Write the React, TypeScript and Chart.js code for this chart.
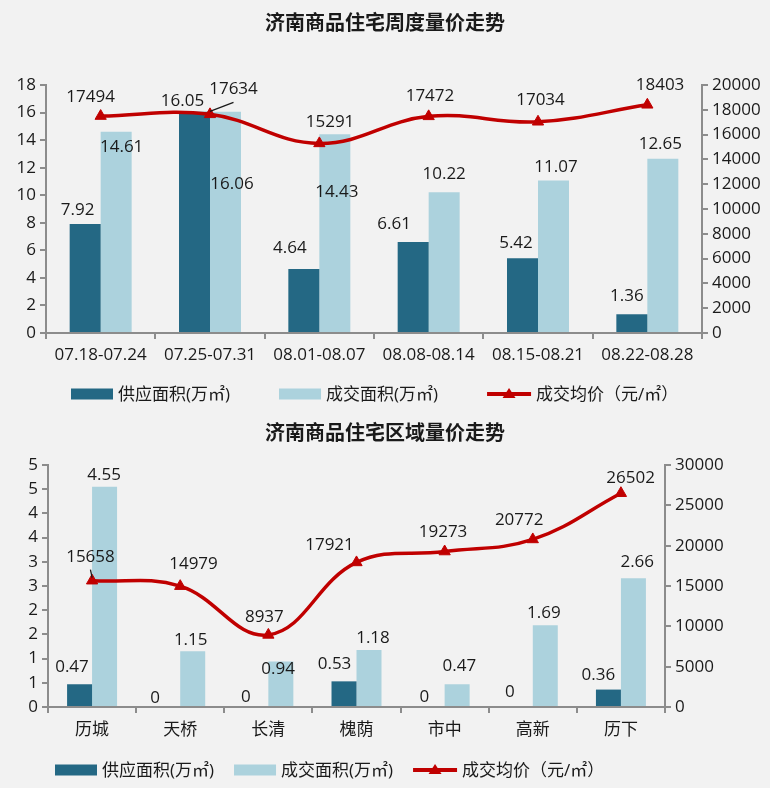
import React, { useEffect, useRef } from 'react';
import { Chart, registerables } from 'chart.js';
Chart.register(...registerables);

const FONT = "'Open Sans', 'Noto Sans CJK SC', sans-serif";
const AXIS = '#8c8c8c';
const TEXT = '#1a1a1a';
const C_SUPPLY = '#246884';
const C_DEAL = '#acd2dd';
const C_PRICE = '#c00000';

// ---- Chart 1 data: weekly ----
const weeks = ['07.18-07.24', '07.25-07.31', '08.01-08.07', '08.08-08.14', '08.15-08.21', '08.22-08.28'];
const weekSupply = [7.92, 16.05, 4.64, 6.61, 5.42, 1.36];
const weekDeal = [14.61, 16.06, 14.43, 10.22, 11.07, 12.65];
const weekPrice = [17494, 17634, 15291, 17472, 17034, 18403];

// ---- Chart 2 data: districts ----
const districts = ['历城', '天桥', '长清', '槐荫', '市中', '高新', '历下'];
const distSupply = [0.47, 0, 0, 0.53, 0, 0, 0.36];
const distDeal = [4.55, 1.15, 0.94, 1.18, 0.47, 1.69, 2.66];
const distPrice = [15658, 14979, 8937, 17921, 19273, 20772, 26502];

const seriesNames = ['供应面积(万㎡)', '成交面积(万㎡)', '成交均价（元/㎡）'];

// label placement nudges [dx, dy] relative to bar top / point centre
const nudges1 = [
  [[-7.5, -14], [-12, -11], [-14, -21], [-19, -18], [-6.5, -15], [-5, -18]],
  [[5.5, 15], [6.5, 72], [2, 57.5], [0, -18], [2.5, -13], [-2.5, -15]],
  [[-10, -18.6], [23.5, -25], [10.7, -21.7], [1.3, -20], [2.5, -22], [12.7, -20]],
];
const nudges2 = [
  [[-7.6, -17.5], [-12.5, -8.5], [-10, -10.3], [-9.5, -16.7], [-7.7, -10.3], [-10.5, -15.3], [-10, -14]],
  [[-0.5, -12], [-2, -11], [-2.7, 8], [4, -12], [2.2, -17.7], [-1.4, -12.3], [3.8, -16.3]],
  [[-1.6, -24], [13.3, -22], [-4, -18], [-27, -17], [-1.6, -19], [-13.6, -19], [9.7, -15]],
];

const valueLabels = {
  id: 'valueLabels',
  afterDatasetsDraw(chart: any, _args: any, opts: any) {
    const ctx = chart.ctx;
    ctx.save();
    ctx.font = `17px ${FONT}`;
    ctx.fillStyle = TEXT;
    ctx.textAlign = 'center';
    ctx.textBaseline = 'middle';
    chart.data.datasets.forEach((ds: any, di: number) => {
      const meta = chart.getDatasetMeta(di);
      meta.data.forEach((el: any, i: number) => {
        const [dx, dy] = opts.nudges[di][i];
        const x = el.x + dx;
        const y = el.y + dy;
        ctx.fillText(String(ds.data[i]), x, y);
        if ((opts.leaders || []).some((l: number[]) => l[0] === di && l[1] === i)) {
          ctx.strokeStyle = TEXT;
          ctx.lineWidth = 1.3;
          ctx.beginPath();
          ctx.moveTo(x, y + 13);
          ctx.lineTo(el.x, el.y - 3);
          ctx.stroke();
        }
      });
    });
    ctx.restore();
  },
};

const customLegend = {
  id: 'customLegend',
  afterDraw(chart: any, _args: any, opts: any) {
    const ctx = chart.ctx;
    const y = opts.y;
    let x = opts.startX;
    ctx.save();
    ctx.font = `17px ${FONT}`;
    ctx.textBaseline = 'middle';
    ctx.textAlign = 'left';
    chart.data.datasets.forEach((ds: any) => {
      if (ds.type === 'line') {
        ctx.strokeStyle = ds.borderColor;
        ctx.lineWidth = 4;
        ctx.beginPath();
        ctx.moveTo(x, y);
        ctx.lineTo(x + 44, y);
        ctx.stroke();
        ctx.fillStyle = ds.borderColor;
        ctx.beginPath();
        ctx.moveTo(x + 22, y - 6);
        ctx.lineTo(x + 28.5, y + 4);
        ctx.lineTo(x + 15.5, y + 4);
        ctx.closePath();
        ctx.fill();
        x += 49;
      } else {
        ctx.fillStyle = ds.backgroundColor;
        ctx.fillRect(x, y - 5.5, 42, 11);
        x += 47;
      }
      ctx.fillStyle = TEXT;
      ctx.fillText(ds.label, x, y + 1);
      x += ctx.measureText(ds.label).width + opts.gap;
    });
    ctx.restore();
  },
};

function tickFont() {
  return { family: FONT, size: 17 };
}

function buildConfig(p: any) {
  const yGrid = { drawOnChartArea: false, drawTicks: true, tickLength: 6, color: AXIS, lineWidth: 2 };
  return {
    type: 'bar',
    data: {
      labels: p.labels,
      datasets: [
        {
          label: seriesNames[0], data: p.supply, backgroundColor: C_SUPPLY, yAxisID: 'y',
          categoryPercentage: 0.567, barPercentage: 1, borderWidth: 0, order: 1,
        },
        {
          label: seriesNames[1], data: p.deal, backgroundColor: C_DEAL, yAxisID: 'y',
          categoryPercentage: 0.567, barPercentage: 1, borderWidth: 0, order: 1,
        },
        {
          type: 'line', label: seriesNames[2], data: p.price, yAxisID: 'y1',
          borderColor: C_PRICE, backgroundColor: C_PRICE, borderWidth: 3.5, tension: 0.4,
          pointStyle: 'triangle', pointRadius: 6.5, pointBackgroundColor: C_PRICE,
          pointBorderColor: C_PRICE, pointBorderWidth: 1, fill: false, order: 0,
        },
      ],
    },
    options: {
      responsive: false,
      animation: false,
      events: [],
      layout: { padding: 0 },
      plugins: {
        legend: { display: false },
        tooltip: { enabled: false },
        title: {
          display: true, text: p.title, color: TEXT,
          font: { family: FONT, size: 20, weight: 'bold' },
          padding: { top: 12, bottom: p.titleBottom },
        },
        valueLabels: { nudges: p.nudges, leaders: p.leaders },
        customLegend: { y: p.legendY, startX: p.legendX, gap: p.legendGap },
      },
      scales: {
        x: {
          offset: true,
          grid: { offset: true, drawOnChartArea: false, drawTicks: true, tickLength: 6, color: AXIS, lineWidth: 2 },
          border: { color: AXIS, width: 2 },
          ticks: { font: tickFont(), color: TEXT, padding: p.xPad, maxRotation: 0, autoSkip: false },
          afterFit: (s: any) => { s.height = p.xHeight; },
        },
        y: {
          position: 'left', min: 0, max: p.yMax,
          ticks: {
            stepSize: p.yStep, font: tickFont(), color: TEXT, padding: 4,
            callback: (v: number) => String(Math.round(v)),
          },
          grid: yGrid,
          border: { color: AXIS, width: 2 },
          afterFit: (s: any) => { s.width = p.leftW; },
        },
        y1: {
          position: 'right', min: 0, max: p.y1Max,
          ticks: { stepSize: p.y1Step, font: tickFont(), color: TEXT, padding: 4, callback: (v: number) => String(v) },
          grid: yGrid,
          border: { color: AXIS, width: 2 },
          afterFit: (s: any) => { s.width = p.rightW; },
        },
      },
    },
    plugins: [valueLabels, customLegend],
  };
}

function ChartCanvas({ params, width, height }: any) {
  const ref = useRef<HTMLCanvasElement | null>(null);
  useEffect(() => {
    const chart = new Chart(ref.current as any, buildConfig(params) as any);
    return () => chart.destroy();
  }, []);
  return <canvas ref={ref} width={width} height={height} style={{ display: 'block', width, height }} />;
}

const params1 = {
  title: '济南商品住宅周度量价走势',
  labels: weeks, supply: weekSupply, deal: weekDeal, price: weekPrice,
  nudges: nudges1, leaders: [[2, 1]],
  titleBottom: 49, xHeight: 77, xPad: 6, leftW: 46, rightW: 68,
  yMax: 18, yStep: 2, y1Max: 20000, y1Step: 2000,
  legendY: 394, legendX: 71, legendGap: 49,
};

const params2 = {
  title: '济南商品住宅区域量价走势',
  labels: districts, supply: distSupply, deal: distDeal, price: distPrice,
  nudges: nudges2, leaders: [[2, 0]],
  titleBottom: 19, xHeight: 81, xPad: 7, leftW: 48, rightW: 105,
  yMax: 5, yStep: 0.5, y1Max: 30000, y1Step: 5000,
  legendY: 360, legendX: 55, legendGap: 20,
};

export default function App() {
  useEffect(() => {
    document.body.style.margin = '0';
    document.body.style.background = '#f2f2f2';
  }, []);
  return (
    <div style={{ width: 770, height: 788, background: '#f2f2f2' }}>
      <ChartCanvas params={params1} width={770} height={410} />
      <ChartCanvas params={params2} width={770} height={378} />
    </div>
  );
}
